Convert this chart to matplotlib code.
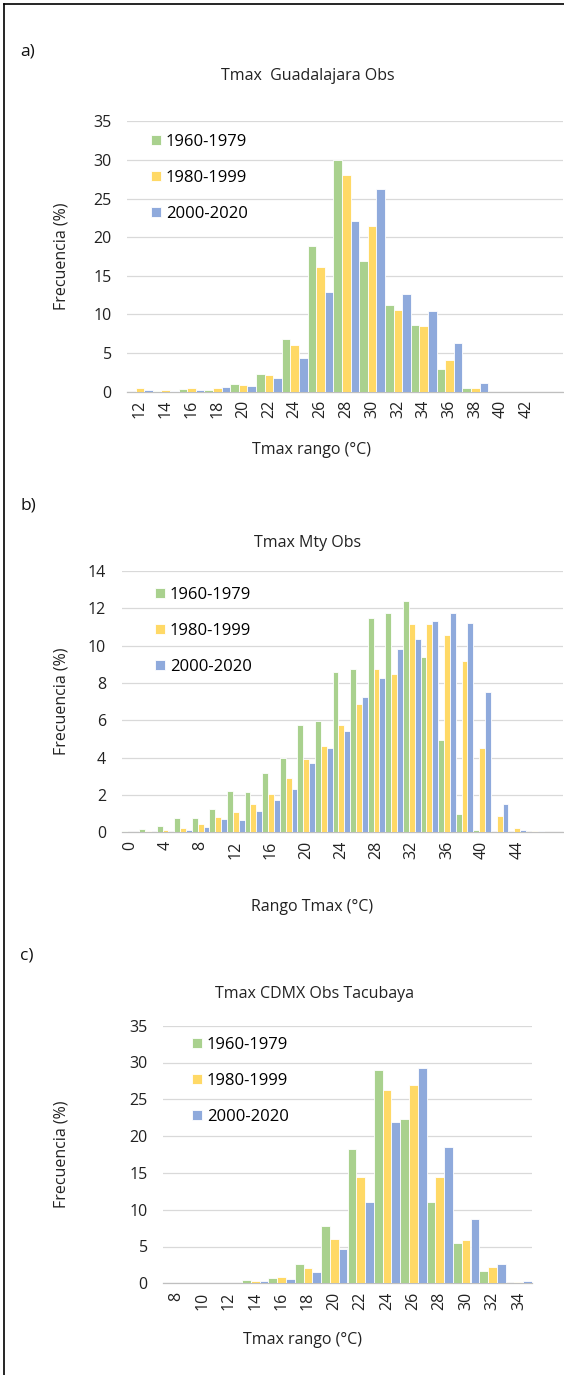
import numpy as np
import matplotlib
matplotlib.use("Agg")
import matplotlib.pyplot as plt
from matplotlib.lines import Line2D

plt.rcParams['font.family'] = ['Open Sans', 'DejaVu Sans']
plt.rcParams['font.size'] = 11

# ---- data ----
periods = ['1960-1979', '1980-1999', '2000-2020']
colors = ['#A9D18E', '#FFD966', '#8FAADC']

# a) Guadalajara
gdl_cats = [12, 14, 16, 18, 20, 22, 24, 26, 28, 30, 32, 34, 36, 38, 40, 42]
gdl_60 = [0.0, 0.05, 0.35, 0.2, 1.0, 2.35, 6.8, 18.9, 30.0, 16.9, 11.2, 8.7, 2.95, 0.45, 0, 0]
gdl_80 = [0.5, 0.2, 0.45, 0.5, 0.85, 2.1, 6.1, 16.1, 28.1, 21.5, 10.6, 8.5, 4.05, 0.45, 0, 0]
gdl_00 = [0.25, 0.15, 0.25, 0.55, 0.75, 1.8, 4.3, 12.9, 22.1, 26.3, 12.7, 10.4, 6.35, 1.15, 0, 0]

# b) Monterrey
mty_cats = [0, 2, 4, 6, 8, 10, 12, 14, 16, 18, 20, 22, 24, 26, 28, 30, 32, 34, 36, 38, 40, 42, 44, 46]
mty_60 = [0.07, 0.16, 0.36, 0.79, 0.77, 1.27, 2.2, 2.15, 3.2, 4.0, 5.75, 5.95, 8.6, 8.73,
          11.48, 11.73, 12.4, 9.4, 4.93, 1.0, 0.11, 0.04, 0, 0]
mty_80 = [0.0, 0.09, 0.12, 0.25, 0.43, 0.82, 1.1, 1.5, 2.05, 2.9, 3.95, 4.65, 5.75, 6.9,
          8.75, 8.48, 11.18, 11.16, 10.57, 9.16, 4.54, 0.87, 0.22, 0.05]
mty_00 = [0.0, 0.0, 0.0, 0.12, 0.29, 0.7, 0.65, 1.15, 1.75, 2.3, 3.7, 4.5, 5.45, 7.23,
          8.29, 9.8, 10.34, 11.34, 11.73, 11.23, 7.5, 1.49, 0.15, 0.05]

# c) CDMX Tacubaya
cdmx_cats = [8, 10, 12, 14, 16, 18, 20, 22, 24, 26, 28, 30, 32, 34]
cdmx_60 = [0, 0, 0, 0.4, 0.77, 2.62, 7.83, 18.3, 28.96, 22.3, 11.05, 5.42, 1.72, 0]
cdmx_80 = [0, 0, 0, 0.27, 0.81, 2.04, 5.97, 14.5, 26.2, 26.9, 14.4, 5.85, 2.17, 0.23]
cdmx_00 = [0, 0, 0, 0.27, 0.59, 1.54, 4.7, 11.04, 21.95, 29.2, 18.48, 8.8, 2.62, 0.27]

W, H = 564, 1375
fig = plt.figure(figsize=(W / 100, H / 100), dpi=100)


def px_axes(left, right, top, bottom):
    return fig.add_axes([left / W, 1 - bottom / H, (right - left) / W, (bottom - top) / H])


def draw_panel(ax, cats, series, ymax, ystep, xmax, label_every, leg_xy):
    x = np.arange(len(cats))
    w = 1 / 3.0
    for k, (vals, c, lab) in enumerate(zip(series, colors, periods)):
        ax.bar(x + (k - 1) * w, vals, width=w, color=c, edgecolor='white',
               linewidth=0.6, label=lab, zorder=3)
    ax.set_xlim(-0.5, xmax)
    ax.set_ylim(0, ymax)
    ax.set_yticks(np.arange(0, ymax + 0.01, ystep))
    ax.set_yticklabels([str(int(v)) for v in np.arange(0, ymax + 0.01, ystep)])
    ax.set_xticks(x[::label_every])
    ax.set_xticklabels([str(c) for c in cats[::label_every]], rotation=90)
    ax.grid(axis='y', color='#D9D9D9', linewidth=0.9, zorder=0)
    for s in ['top', 'right', 'left']:
        ax.spines[s].set_visible(False)
    ax.spines['bottom'].set_color('#BFBFBF')
    ax.spines['bottom'].set_linewidth(0.9)
    ax.tick_params(axis='both', length=0, labelsize=11.5, colors='#222222')
    ax.tick_params(axis='y', pad=11)
    ax.tick_params(axis='x', pad=6)
    ax.legend(loc='upper left', bbox_to_anchor=(leg_xy[0] / W, 1 - leg_xy[1] / H),
              bbox_transform=fig.transFigure, frameon=False, borderpad=0,
              borderaxespad=0, handlelength=0.6, handleheight=0.6,
              handletextpad=0.3, labelspacing=1.2, fontsize=12)


# a)
ax1 = px_axes(127, 563, 121.4, 391.7)
draw_panel(ax1, gdl_cats, [gdl_60, gdl_80, gdl_00], 35, 5, 16.4, 1, (151, 134))
# b)
ax2 = px_axes(121.5, 563, 571, 832.3)
draw_panel(ax2, mty_cats, [mty_60, mty_80, mty_00], 14, 2, 24.6, 2, (155, 587))
# c)
ax3 = px_axes(163, 532, 1025.7, 1283.3)
draw_panel(ax3, cdmx_cats, [cdmx_60, cdmx_80, cdmx_00], 35, 5, 13.5, 1, (192, 1037))

# titles, axis labels, panel letters (placed like the Excel chart areas)
def ftext(x, y, s, **kw):
    fig.text(x / W, 1 - y / H, s, ha='center', va='center', color='#222222', **kw)

ftext(308, 76, 'Tmax  Guadalajara Obs', fontsize=11.5)
ftext(308, 543, 'Tmax Mty Obs', fontsize=11.5)
ftext(315, 994, 'Tmax CDMX Obs Tacubaya', fontsize=11.5)

ftext(312, 450, 'Tmax rango (°C)', fontsize=11.5)
ftext(312, 907, 'Rango Tmax (°C)', fontsize=11.5)
ftext(302, 1340, 'Tmax rango (°C)', fontsize=11.5)

ftext(62, (121.4 + 391.7) / 2, 'Frecuencia (%)', fontsize=11.5, rotation=90)
ftext(62, (571 + 832.3) / 2, 'Frecuencia (%)', fontsize=11.5, rotation=90)
ftext(62, (1025.7 + 1283.3) / 2, 'Frecuencia (%)', fontsize=11.5, rotation=90)

for lab, y in [('a)', 52), ('b)', 506), ('c)', 956)]:
    fig.text(20 / W, 1 - y / H, lab, ha='left', va='center', fontsize=12.5, color='#111111')

# outer frame (left and top edges visible in the reference)
fig.add_artist(Line2D([4 / W, 4 / W], [0, 1 - 4 / H], color='black', linewidth=1.2))
fig.add_artist(Line2D([4 / W, 1], [1 - 4 / H, 1 - 4 / H], color='black', linewidth=1.2))

fig.savefig('out.png', dpi=100, facecolor='white')
